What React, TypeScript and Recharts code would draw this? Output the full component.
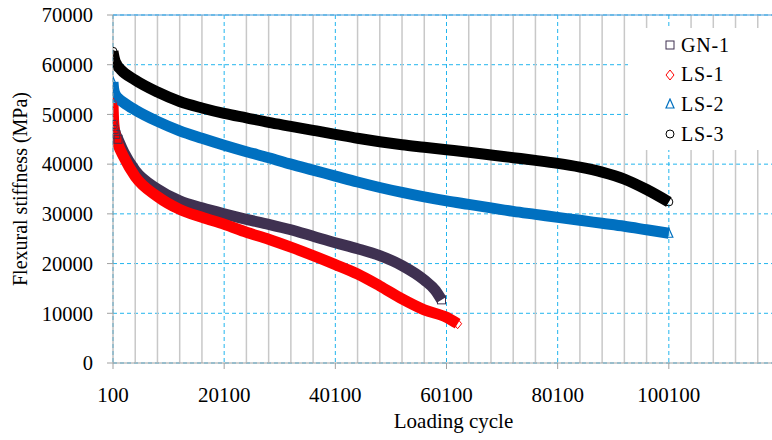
import React from "react";
import { LineChart, Line, XAxis, YAxis, CartesianGrid, ReferenceLine } from "recharts";

const xTicks = [100, 20100, 40100, 60100, 80100, 100100];
const xMinor = [4100, 8100, 12100, 16100, 24100, 28100, 32100, 36100, 44100, 48100, 52100, 56100, 64100, 68100, 72100, 76100, 84100, 88100, 92100, 96100, 104100, 108100, 112100, 116100];
const yTicks = [0, 10000, 20000, 30000, 40000, 50000, 60000, 70000];

const gn1Cycles = [100, 300, 600, 1000, 2000, 4100, 8100, 12100, 16100, 20100, 24100, 28100, 32100, 36100, 40100, 44100, 48100, 52100, 56100, 58100, 59200];
const gn1Values = [48000, 47000, 46000, 45000, 42500, 38700, 35000, 32600, 31200, 30000, 28900, 27900, 26800, 25500, 24200, 23000, 21600, 19600, 16700, 14600, 12700];

const ls1Cycles = [100, 150, 200, 300, 600, 1000, 2000, 4100, 8100, 12100, 16100, 20100, 24100, 28100, 32100, 36100, 40100, 44100, 48100, 52100, 56100, 60100, 62100];
const ls1Values = [52300, 50500, 49000, 47500, 45500, 44000, 41500, 37500, 33500, 30900, 29300, 27900, 26300, 24900, 23300, 21600, 19800, 17900, 15500, 12900, 10700, 9200, 7900];

const ls2Cycles = [100, 200, 400, 1000, 2000, 4100, 8100, 12100, 16100, 20100, 24100, 28100, 32100, 36100, 40100, 44100, 48100, 52100, 56100, 60100, 64100, 68100, 72100, 76100, 80100, 84100, 88100, 92100, 96100, 100100];
const ls2Values = [56500, 55300, 54300, 53300, 52400, 50900, 48600, 46700, 45200, 43800, 42500, 41300, 40000, 38800, 37600, 36400, 35300, 34300, 33400, 32600, 31900, 31200, 30500, 29900, 29300, 28700, 28100, 27500, 26800, 26100];

const ls3Cycles = [100, 200, 400, 800, 1500, 4100, 8100, 12100, 16100, 20100, 24100, 28100, 32100, 36100, 40100, 44100, 48100, 52100, 56100, 60100, 64100, 68100, 72100, 76100, 80100, 84100, 88100, 92100, 96100, 100100];
const ls3Values = [62700, 62000, 61000, 60000, 59000, 56900, 54500, 52600, 51300, 50200, 49300, 48400, 47600, 46800, 46000, 45200, 44500, 43900, 43400, 42900, 42400, 41850, 41300, 40750, 40150, 39400, 38400, 37000, 34900, 32400];

const seriesNames = ["GN-1", "LS-1", "LS-2", "LS-3"];
const seriesColors = ["#3F3151", "#FF0000", "#0070C0", "#000000"];
const seriesShapes = ["square", "diamond", "triangle", "circle"];

const FONT = "'Liberation Serif', 'Times New Roman', serif";

const toData = (xs: number[], ys: number[]) => xs.map((x, i) => ({ x, y: ys[i] }));
const seriesData = [
  toData(gn1Cycles, gn1Values),
  toData(ls1Cycles, ls1Values),
  toData(ls2Cycles, ls2Values),
  toData(ls3Cycles, ls3Values),
];

function Marker({ shape, color, cx, cy, r }: { shape: string; color: string; cx: number; cy: number; r: number }) {
  if (shape === "square") return <rect x={cx - r} y={cy - r} width={2 * r} height={2 * r} fill="none" stroke={color} strokeWidth={1} />;
  if (shape === "diamond") return <polygon points={`${cx},${cy - r - 1} ${cx + r},${cy} ${cx},${cy + r + 1} ${cx - r},${cy}`} fill="none" stroke={color} strokeWidth={1} />;
  if (shape === "triangle") return <polygon points={`${cx},${cy - r - 1} ${cx + r},${cy + r} ${cx - r},${cy + r}`} fill="none" stroke={color} strokeWidth={1.2} />;
  return <circle cx={cx} cy={cy} r={r} fill="none" stroke={color} strokeWidth={1} />;
}

const makeDot = (si: number, count: number) => (props: any) => {
  const { cx, cy, index } = props;
  if (index > 3 && index !== count - 1) return <g key={`d${si}-${index}`} />;
  return (
    <g key={`d${si}-${index}`}>
      <Marker shape={seriesShapes[si]} color={seriesColors[si]} cx={cx} cy={cy} r={4} />
    </g>
  );
};

const LegendBox = () => (
  <div style={{ position: "absolute", left: 630, top: 28, background: "#fff", width: 150, height: 122, fontFamily: FONT, fontSize: 20, letterSpacing: 0.8, color: "#000" }}>
    {seriesNames.map((n, i) => (
      <div key={n} style={{ position: "absolute", left: 34, top: 4 + i * 29.7, height: 26, display: "flex", alignItems: "center", whiteSpace: "nowrap" }}>
        <svg width={12} height={12} style={{ marginRight: 5 }}>
          <Marker shape={seriesShapes[i]} color={seriesColors[i]} cx={6} cy={6} r={4} />
        </svg>
        <span>{n}</span>
      </div>
    ))}
  </div>
);

export default function App() {
  return (
    <div style={{ position: "absolute", left: 0, top: 0, width: 772, height: 440, overflow: "hidden", background: "#fff", fontFamily: FONT }}>
      <LineChart
        width={790}
        height={440}
        margin={{ top: 15, right: 10, bottom: 27, left: 23 }}
        style={{ fontFamily: FONT }}
      >
        <CartesianGrid stroke="#22B5EE" strokeDasharray="4 3" strokeWidth={1} />
        {xMinor.map((v) => (
          <ReferenceLine key={v} x={v} stroke="#C8C8C8" strokeWidth={1.5} />
        ))}
        <ReferenceLine y={70000} stroke="#4A9AD8" strokeWidth={1.2} />
        <XAxis
          type="number"
          dataKey="x"
          domain={[100, 120100]}
          ticks={xTicks}
          allowDataOverflow
          height={50}
          tickSize={6}
          tickMargin={18}
          stroke="#A0A0A0"
          tick={{ fill: "#000", fontSize: 21, fontFamily: FONT }}
          label={{ value: "Loading cycle", position: "insideBottom", offset: -15, dx: 7, fill: "#000", fontSize: 21, fontFamily: FONT }}
        />
        <YAxis
          type="number"
          domain={[0, 70000]}
          ticks={yTicks}
          width={90}
          tickSize={6}
          tickMargin={14}
          stroke="#A0A0A0"
          tick={{ fill: "#000", fontSize: 20.5, fontFamily: FONT }}
          label={{ value: "Flexural stiffness (MPa)", angle: -90, position: "insideLeft", offset: -3, fill: "#000", fontSize: 20, fontFamily: FONT, style: { textAnchor: "middle" } }}
        />
        {seriesData.map((d, i) => (
          <Line
            key={seriesNames[i]}
            data={d}
            dataKey="y"
            name={seriesNames[i]}
            type="monotone"
            stroke={seriesColors[i]}
            strokeWidth={11}
            dot={makeDot(i, d.length)}
            activeDot={false}
            isAnimationActive={false}
          />
        ))}
      </LineChart>
      <LegendBox />
    </div>
  );
}
